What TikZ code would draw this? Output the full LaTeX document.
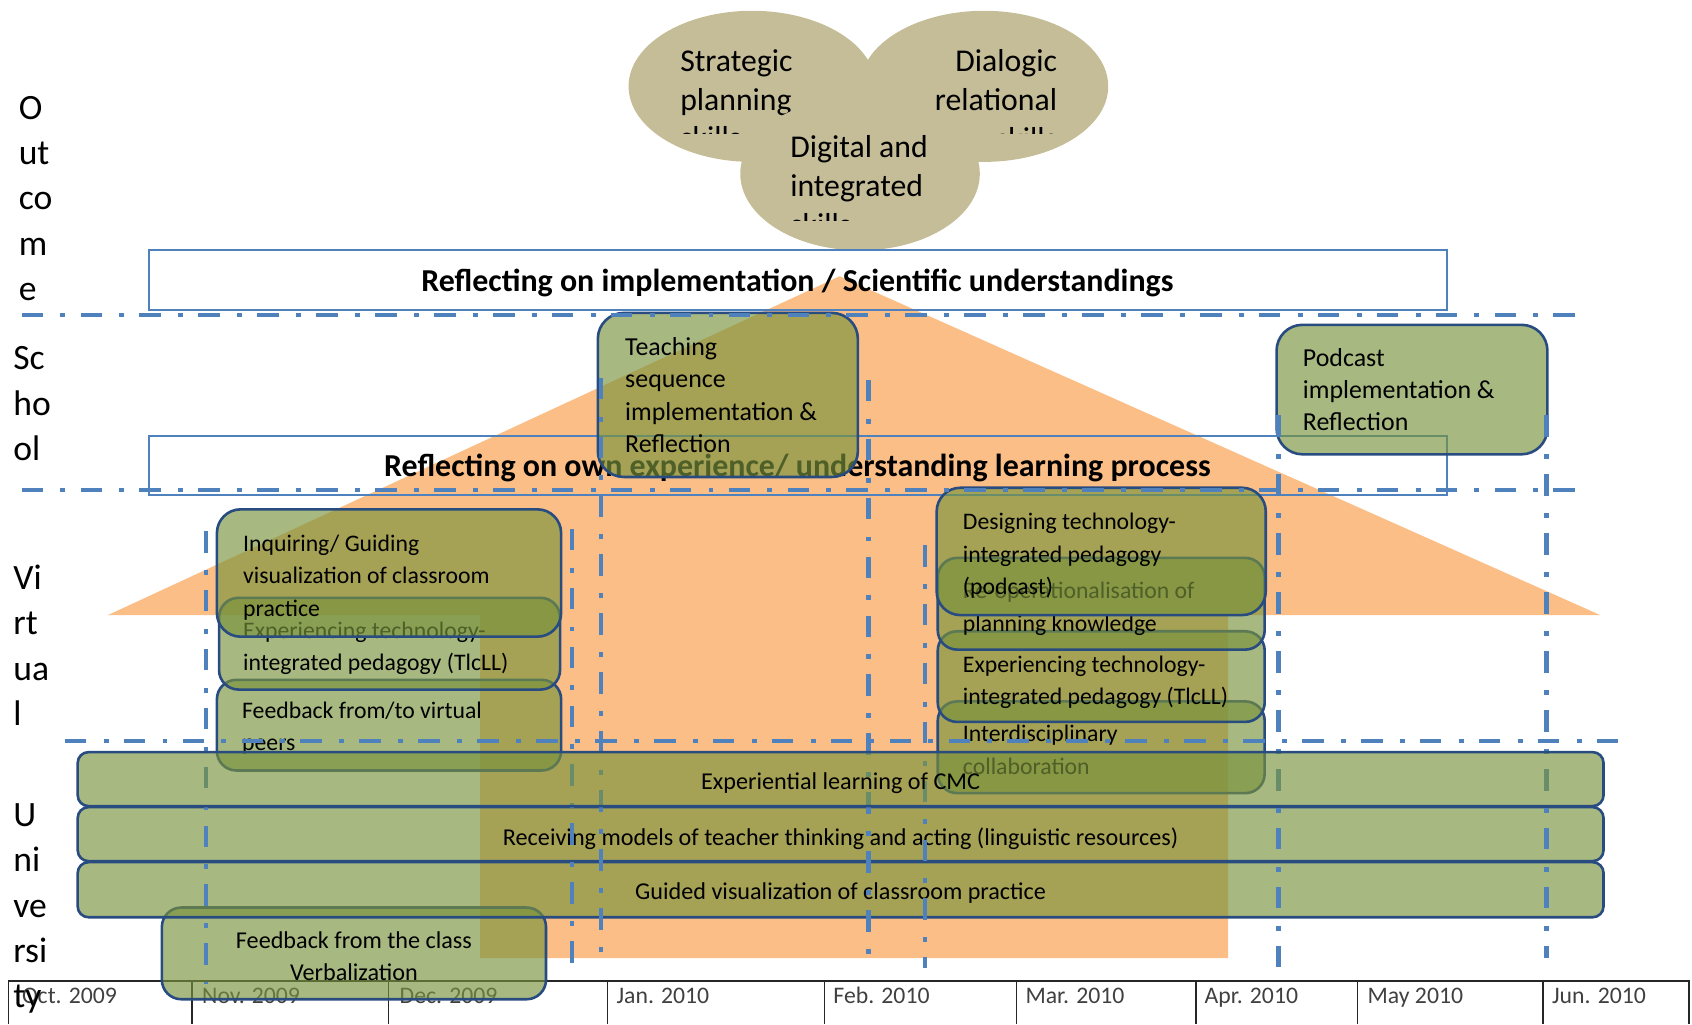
\documentclass[tikz,border=0pt]{standalone}
\usepackage{fontspec}
\setmainfont{Carlito}
\usetikzlibrary{shapes.geometric}
\definecolor{roof}{RGB}{250,190,134}
\definecolor{skill}{RGB}{196,189,151}
\definecolor{leaf}{RGB}{120,146,60}
\definecolor{rim}{RGB}{40,76,128}
\definecolor{sepblue}{RGB}{79,129,189}
\tikzset{
  gbox/.style={draw=rim,line width=1.2pt,fill=leaf,fill opacity=.65},
  gtext/.style={anchor=west,align=left,inner sep=0pt,font=\fontsize{11}{15}\selectfont},
  wtext/.style={inner sep=0pt,font=\fontsize{11.2}{15}\selectfont},
  hsep/.style={sepblue,line width=1.8pt,dash pattern=on 10pt off 8pt on 2.3pt off 7pt},
  vsep/.style={hsep,line width=2.1pt},
  band/.style={draw=sepblue,line width=.8pt},
  bandtext/.style={inner sep=0pt,font=\fontsize{14.8}{17}\selectfont\bfseries},
  month/.style={anchor=base west,inner sep=0pt,text=black!75,font=\fontsize{11}{13}\selectfont},
  layer/.style={anchor=west,align=left,inner sep=0pt,font=\fontsize{16.5}{21}\selectfont},
  blob/.style={ellipse,fill=skill,inner sep=0pt},
  skilltext/.style={inner sep=0pt,font=\fontsize{14.7}{18}\selectfont}
}
\begin{document}
\begin{tikzpicture}[x=0.5pt,y=-0.5pt]
\useasboundingbox (0,0) rectangle (1568,949);
\fill[roof] (100,570) -- (778,256) -- (1483,570) -- (1138,570) -- (1138,888) -- (445,888) -- (445,570) -- cycle;
\node[blob,minimum width=114.5pt,minimum height=70pt] (strategic) at (697,80) {};
\begin{scope}
\clip (560,0) rectangle (820,124);
\node[skilltext,anchor=west,align=left] (strategictxt) at (630,92) {Strategic\\planning\\skills};
\end{scope}
\node[blob,minimum width=115pt,minimum height=70pt] (dialogic) at (912,80) {};
\begin{scope}
\clip (800,0) rectangle (1030,124);
\node[skilltext,anchor=east,align=right] (dialogictxt) at (980,92) {Dialogic\\relational\\skills};
\end{scope}
\node[blob,minimum width=111pt,minimum height=71pt] (digital) at (797,161) {};
\begin{scope}
\clip (680,90) rectangle (910,204);
\node[skilltext,anchor=west,align=left] (digitaltxt) at (732,172) {Digital and\\integrated\\skills};
\end{scope}
\draw[band] (138,232) rectangle (1341,287);
\node[bandtext] (implband) at (739,262) {Reflecting on implementation / Scientific understandings};
\draw[band] (138,404) rectangle (1341,459);
\node[bandtext] (ownband) at (739,434) {Reflecting on own experience/ understanding learning process};
\draw[gbox,rounded corners=12pt] (554,290) rectangle (795,442);
\node[gtext,font=\fontsize{12}{15}\selectfont] (teaching) at (579,366) {Teaching\\sequence\\implementation \&\\Reflection};
\draw[gbox,rounded corners=12pt] (1183,301) rectangle (1434,421);
\node[gtext,font=\fontsize{12}{15}\selectfont] (podcast) at (1207,361) {Podcast\\implementation \&\\Reflection};
\draw[black!85,line width=.8pt] (8,949) -- (8,909) -- (1565,909) -- (1565,949);
\foreach \x in {178,360,563,764,942,1108,1258,1430} \draw[black!85,line width=.8pt] (\x,909) -- (\x,949);
\foreach \x/\m [count=\i] in {20/Oct. 2009,187/Nov. 2009,370/Dec. 2009,571/Jan. 2010,772/Feb. 2010,950/Mar. 2010,1116/Apr. 2010,1267/May 2010,1438/Jun. 2010}
  \node[month] (month\i) at (\x,930) {\m};
\draw[gbox,rounded corners=9pt] (150,841) rectangle (506,926);
\node[wtext,align=center] (classfeedback) at (328,886) {Feedback from the class\\Verbalization};
\draw[gbox,rounded corners=5pt] (72,799) rectangle (1486,850);
\node[wtext] (guided) at (779,828) {Guided visualization of classroom practice};
\draw[gbox,rounded corners=5pt] (72,748) rectangle (1486,798);
\node[wtext] (receiving) at (779,777) {Receiving models of teacher thinking and acting (linguistic resources)};
\foreach \x/\a/\b in {191/492/912,530/490/893,557/350/888,805/352/896,857/505/897,1185/385/897,1433/385/888}
  \draw[vsep] (\x,\a) -- (\x,\b);
\draw[gbox,rounded corners=9pt] (201,630) rectangle (520,714);
\node[gtext] (peerfeedback) at (224,675) {Feedback from/to virtual\\peers};
\draw[gbox,rounded corners=9pt] (203,554) rectangle (519,639);
\node[gtext] (tlcll) at (225,601) {Experiencing technology-\\integrated pedagogy (TlcLL)};
\draw[gbox,rounded corners=11pt] (201,472) rectangle (520,590);
\node[gtext] (inquiring) at (225,535) {Inquiring/ Guiding\\visualization of classroom\\practice};
\draw[gbox,rounded corners=9pt] (869,650) rectangle (1172,735);
\node[gtext] (interdisc) at (892,695) {Interdisciplinary\\collaboration};
\draw[gbox,rounded corners=5pt] (72,697) rectangle (1486,747);
\node[wtext] (experiential) at (779,726) {Experiential learning of CMC};
\draw[gbox,rounded corners=9pt] (869,585) rectangle (1172,669);
\node[gtext] (tlcllb) at (892,632) {Experiencing technology-\\integrated pedagogy (TlcLL)};
\draw[gbox,rounded corners=9pt] (869,517) rectangle (1172,602);
\node[gtext] (reop) at (892,564) {Re-operationalisation of\\planning knowledge};
\draw[gbox,rounded corners=11pt] (868,452) rectangle (1173,570);
\node[gtext] (designing) at (892,515) {Designing technology-\\integrated pedagogy\\(podcast)};
\draw[hsep] (20,292) -- (1472,292);
\draw[hsep] (20,454) -- (1472,454);
\draw[hsep] (60,687) -- (1510,687);
\node[layer] (outcome) at (17,184) {O\\ut\\co\\m\\e};
\node[layer] (school) at (12,374) {Sc\\ho\\ol};
\node[layer] (virtual) at (12,598) {Vi\\rt\\ua\\l};
\node[layer] (university) at (12,842) {U\\ni\\ve\\rsi\\ty};
\end{tikzpicture}
\end{document}
